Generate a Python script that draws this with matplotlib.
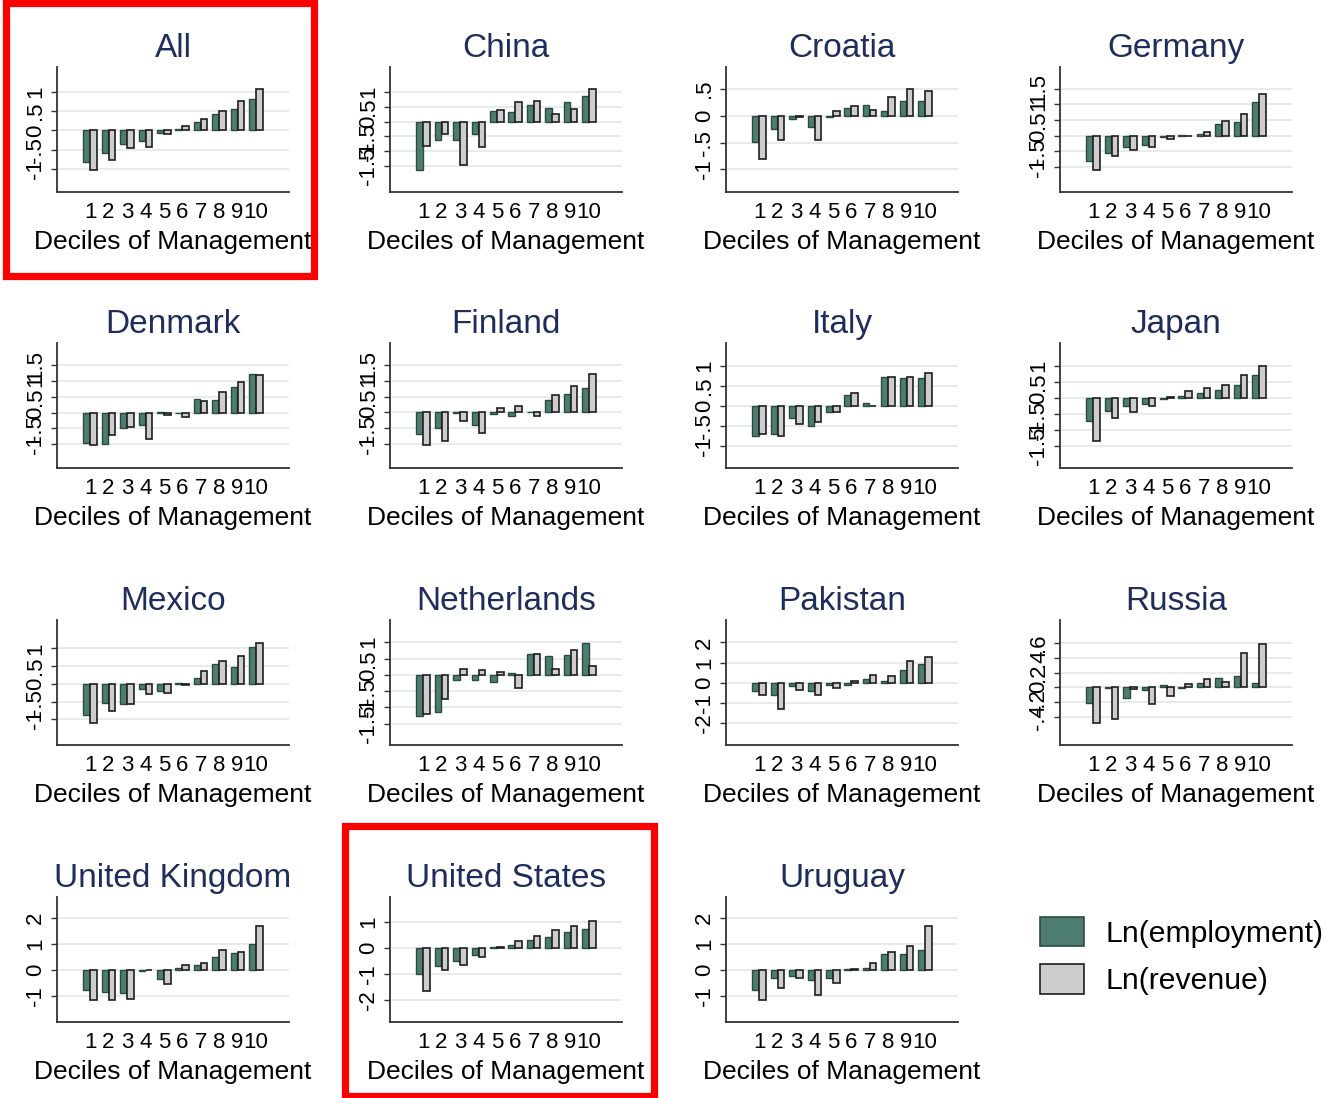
import matplotlib.pyplot as plt
from matplotlib.patches import Patch, Rectangle
import numpy as np

plt.rcParams['font.family'] = ['Liberation Sans', 'DejaVu Sans']

# deciles of management on the x axis
deciles = list(range(1, 11))
decile_labels = [str(d) for d in deciles]

series_names = ["Ln(employment)", "Ln(revenue)"]

# values, one pair of lists per panel
all_emp = [-0.82, -0.59, -0.35, -0.28, -0.06, 0.04, 0.23, 0.42, 0.55, 0.81]
all_rev = [-1.03, -0.76, -0.47, -0.43, -0.09, 0.11, 0.29, 0.49, 0.75, 1.07]
china_emp = [-1.62, -0.63, -0.61, -0.43, 0.37, 0.32, 0.57, 0.47, 0.65, 0.87]
china_rev = [-0.83, -0.41, -1.46, -0.87, 0.41, 0.66, 0.71, 0.27, 0.42, 1.10]
croatia_emp = [-0.49, -0.24, -0.06, -0.21, -0.03, 0.14, 0.21, 0.09, 0.28, 0.28]
croatia_rev = [-0.81, -0.45, -0.03, -0.45, 0.09, 0.18, 0.11, 0.35, 0.50, 0.47]
germany_emp = [-0.82, -0.54, -0.36, -0.29, -0.04, 0.03, 0.05, 0.36, 0.44, 1.06]
germany_rev = [-1.09, -0.66, -0.47, -0.37, -0.12, -0.01, 0.13, 0.48, 0.68, 1.34]
denmark_emp = [-0.96, -1.00, -0.49, -0.38, 0.03, -0.01, 0.42, 0.39, 0.80, 1.21]
denmark_rev = [-1.03, -0.72, -0.45, -0.84, -0.08, -0.14, 0.38, 0.66, 0.98, 1.18]
finland_emp = [-0.69, -0.49, -0.02, -0.41, -0.04, -0.13, 0.02, 0.38, 0.57, 0.76]
finland_rev = [-1.04, -0.91, -0.27, -0.67, 0.13, 0.20, -0.12, 0.56, 0.85, 1.22]
italy_emp = [-0.76, -0.70, -0.30, -0.51, -0.17, 0.27, 0.08, 0.71, 0.70, 0.70]
italy_rev = [-0.71, -0.76, -0.47, -0.42, -0.15, 0.31, -0.02, 0.71, 0.72, 0.82]
japan_emp = [-0.72, -0.42, -0.24, -0.18, -0.03, 0.07, 0.15, 0.26, 0.40, 0.72]
japan_rev = [-1.34, -0.63, -0.45, -0.26, 0.02, 0.22, 0.31, 0.41, 0.73, 1.01]
mexico_emp = [-0.88, -0.54, -0.56, -0.13, -0.19, 0.03, 0.16, 0.56, 0.48, 1.05]
mexico_rev = [-1.09, -0.77, -0.57, -0.27, -0.25, -0.02, 0.36, 0.64, 0.79, 1.16]
netherlands_emp = [-1.25, -1.15, -0.17, -0.15, -0.21, 0.06, 0.64, 0.58, 0.62, 0.96]
netherlands_rev = [-1.21, -0.74, 0.18, 0.16, 0.10, -0.41, 0.64, 0.17, 0.76, 0.26]
pakistan_emp = [-0.41, -0.59, -0.16, -0.41, -0.11, -0.08, 0.20, 0.10, 0.66, 0.95]
pakistan_rev = [-0.62, -1.31, -0.33, -0.62, -0.23, 0.07, 0.41, 0.33, 1.08, 1.30]
russia_emp = [-0.21, -0.01, -0.14, -0.04, 0.03, -0.01, 0.06, 0.12, 0.15, 0.06]
russia_rev = [-0.48, -0.43, -0.02, -0.22, -0.12, 0.05, 0.11, 0.07, 0.46, 0.58]
uk_emp = [-0.77, -0.85, -0.90, -0.03, -0.35, 0.08, 0.20, 0.50, 0.65, 1.00]
uk_rev = [-1.15, -1.15, -1.10, -0.02, -0.55, 0.20, 0.25, 0.75, 0.70, 1.70]
us_emp = [-1.00, -0.70, -0.50, -0.27, 0.05, 0.12, 0.30, 0.42, 0.60, 0.72]
us_rev = [-1.65, -0.85, -0.65, -0.33, 0.03, 0.27, 0.45, 0.70, 0.85, 1.05]
uruguay_emp = [-0.77, -0.30, -0.25, -0.40, -0.30, 0.03, 0.08, 0.60, 0.60, 0.75]
uruguay_rev = [-1.15, -0.70, -0.30, -0.95, -0.50, 0.05, 0.27, 0.70, 0.90, 1.70]

# y tick values used by each panel
ticks_a = [-1, -0.5, 0, 0.5, 1]
ticks_b = [-1.5, -1, -0.5, 0, 0.5, 1]
ticks_c = [-1, -0.5, 0, 0.5]
ticks_d = [-1, -0.5, 0, 0.5, 1, 1.5]
ticks_pak = [-2, -1, 0, 1, 2]
ticks_rus = [-0.4, -0.2, 0, 0.2, 0.4, 0.6]
ticks_uk = [-1, 0, 1, 2]
ticks_us = [-2, -1, 0, 1]

# title, employment, revenue, ticks, y range
panels = [
    ("All", all_emp, all_rev, ticks_a, (-1.60, 1.645)),
    ("China", china_emp, china_rev, ticks_b, (-2.38, 1.85)),
    ("Croatia", croatia_emp, croatia_rev, ticks_c, (-1.42, 0.91)),
    ("Germany", germany_emp, germany_rev, ticks_d, (-1.80, 2.19)),
    ("Denmark", denmark_emp, denmark_rev, ticks_d, (-1.75, 2.20)),
    ("Finland", finland_emp, finland_rev, ticks_d, (-1.77, 2.20)),
    ("Italy", italy_emp, italy_rev, ticks_a, (-1.56, 1.57)),
    ("Japan", japan_emp, japan_rev, ticks_b, (-2.20, 1.73)),
    ("Mexico", mexico_emp, mexico_rev, ticks_a, (-1.72, 1.80)),
    ("Netherlands", netherlands_emp, netherlands_rev, ticks_b, (-2.15, 1.68)),
    ("Pakistan", pakistan_emp, pakistan_rev, ticks_pak, (-3.07, 3.11)),
    ("Russia", russia_emp, russia_rev, ticks_rus, (-0.78, 0.91)),
    ("United Kingdom", uk_emp, uk_rev, ticks_uk, (-2.0, 2.8)),
    ("United States", us_emp, us_rev, ticks_us, (-2.85, 1.96)),
    ("Uruguay", uruguay_emp, uruguay_rev, ticks_uk, (-2.0, 2.8)),
]

emp_color = "#4d7c71"
emp_edge = "#2c4a44"
rev_color = "#cdcdcd"
rev_edge = "#1e1e1e"
title_color = "#1f2d5c"
grid_color = "#e3e8e9"

W, H = 1326, 1098
col_left = [57, 390, 726, 1060]
row_top = [67, 343, 620, 897]
ax_w, ax_h = 232, 125


# Stata style labels: -.5, .5, 0
def stata_fmt(v):
    s = f"{v:g}"
    return s.replace("0.", ".")


fig = plt.figure(figsize=(W / 100, H / 100), dpi=100)

x = np.array(deciles)
bw = 0.35
for i, (name, emp, rev, ticks, ylim) in enumerate(panels):
    r, c = divmod(i, 4)
    ax = fig.add_axes([col_left[c] / W, 1 - (row_top[r] + ax_h) / H, ax_w / W, ax_h / H])
    ax.bar(x - 0.19, emp, bw, color=emp_color, edgecolor=emp_edge, linewidth=1.0, zorder=3)
    ax.bar(x + 0.19, rev, bw, color=rev_color, edgecolor=rev_edge, linewidth=1.2, zorder=3)

    ax.set_xlim(-0.8, 11.8)
    ax.set_ylim(*ylim)
    ax.set_xticks(x)
    ax.set_xticklabels(decile_labels)
    ax.set_yticks(ticks)
    ax.set_yticklabels([stata_fmt(t) for t in ticks], rotation=90, va='center')
    ax.tick_params(axis='x', length=0, pad=7, labelsize=16)
    ax.tick_params(axis='y', length=4, width=1, pad=4, labelsize=16, color='#333333')
    ax.grid(axis='y', color=grid_color, linewidth=1.2, zorder=0)
    ax.set_axisbelow(True)

    for side in ['top', 'right']:
        ax.spines[side].set_visible(False)
    for side in ['left', 'bottom']:
        ax.spines[side].set_color('#333333')
        ax.spines[side].set_linewidth(1.3)

    ax.set_title(name, fontsize=24, color=title_color, pad=7)
    ax.set_xlabel("Deciles of Management", fontsize=19, labelpad=5)

handles = [Patch(facecolor=emp_color, edgecolor=emp_edge, linewidth=1.2),
           Patch(facecolor=rev_color, edgecolor=rev_edge, linewidth=1.2)]
fig.legend(handles, series_names, loc='upper left',
           bbox_to_anchor=(1040 / W, 1 - 917 / H), frameon=False, fontsize=21.7,
           handlelength=1.45, handleheight=1.12, handletextpad=0.72,
           labelspacing=0.55, borderpad=0, borderaxespad=0)

# red highlight boxes around two panels
for (x0, y0, x1, y1) in [(5.5, 3.5, 313.5, 276.5), (345, 826, 654, 1096)]:
    fig.add_artist(Rectangle((x0 / W, 1 - y1 / H), (x1 - x0) / W, (y1 - y0) / H,
                             transform=fig.transFigure, fill=False,
                             edgecolor='#ff0000', linewidth=5.2))

fig.savefig("out.png", dpi=100, facecolor='white')
